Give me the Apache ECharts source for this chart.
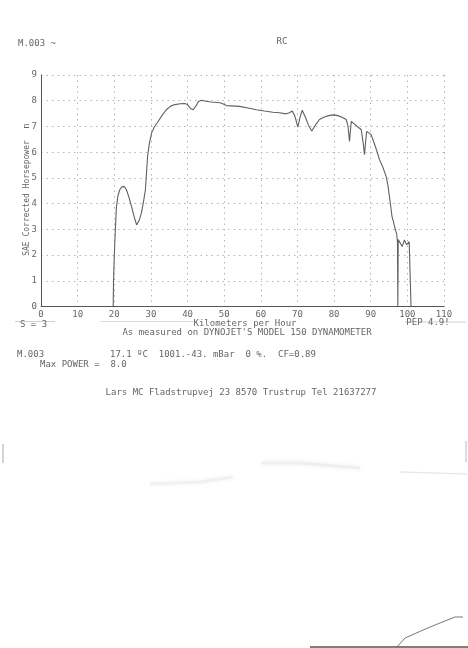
<!DOCTYPE html>
<html>
<head>
<meta charset="utf-8">
<script src="https://cdn.jsdelivr.net/npm/echarts@6/dist/echarts.min.js"></script>
<style>
html,body{margin:0;padding:0;background:#fff;}
#c{width:468px;height:648px;}
</style>
</head>
<body>
<div id="c"></div>
<script>
// Data read from the dyno sheet (km/h, SAE corrected hp)
var speed = [19.7,19.8,20.0,20.3,20.6,21.0,21.5,22.1,22.7,23.3,24.0,24.7,25.4,26.1,26.8,27.4,28.0,28.5,28.8,29.1,29.6,30.2,31.0,32.0,33.0,34.2,35.3,36.5,38.0,39.2,40.0,40.8,41.5,42.3,43.0,43.8,45.0,46.5,48.0,48.8,49.6,50.6,52.0,54.2,56.5,58.8,61.0,63.3,65.1,66.9,67.8,68.6,69.3,70.1,70.7,71.3,72.2,73.0,73.9,74.9,76.0,77.2,78.5,79.8,81.0,82.2,83.3,83.8,84.2,84.5,84.7,85.5,86.5,87.4,87.9,88.3,88.6,88.9,89.5,90.1,91.2,92.4,93.3,94.2,94.7,95.1,95.5,95.8,96.2,96.5,96.9,97.1,97.3,97.4,97.5,98.0,98.6,99.2,99.8,100.5,100.9,101.0];
var power = [0,1.0,1.94,3.0,3.89,4.3,4.54,4.65,4.67,4.55,4.25,3.89,3.5,3.17,3.35,3.63,4.1,4.54,5.2,5.84,6.35,6.75,7.0,7.2,7.42,7.65,7.78,7.85,7.88,7.89,7.85,7.7,7.65,7.8,7.97,8.02,7.98,7.95,7.93,7.92,7.88,7.81,7.8,7.78,7.72,7.65,7.6,7.55,7.53,7.49,7.53,7.6,7.4,6.97,7.35,7.63,7.35,7.05,6.82,7.05,7.27,7.36,7.42,7.45,7.42,7.36,7.27,7.0,6.42,6.9,7.2,7.1,6.98,6.88,6.4,5.9,6.4,6.81,6.75,6.68,6.25,5.71,5.42,5.06,4.7,4.28,3.85,3.5,3.3,3.11,3.1,2.8,2.5,0,2.6,2.55,2.33,2.59,2.4,2.52,2.45,0];
var xTicks = [0,10,20,30,40,50,60,70,80,90,100,110];
var yTicks = [0,1,2,3,4,5,6,7,8,9];

var pts = speed.map(function(s,i){return [s, power[i]];});
var F = '"DejaVu Sans Mono", monospace';
var TC = '#666';

function txt(x,y,s,opts){
  opts = opts||{};
  return {type:'text', x:x, y:y, rotation: opts.rot||0, silent:true, z:10,
    style:{text:s, fill: opts.color||TC, font: (opts.size||9)+'px '+F,
      textAlign: opts.align||'left', textVerticalAlign:'middle'}};
}
function ln(x1,y1,x2,y2,c,w){
  return {type:'line', silent:true, z:1, shape:{x1:x1,y1:y1,x2:x2,y2:y2}, style:{stroke:c||'#ccc', lineWidth:w||1}};
}
function poly(p,c,w,blur){
  return {type:'polyline', silent:true, z:1, shape:{points:p},
    style:{stroke:c, lineWidth:w, fill:null, shadowBlur:blur||0, shadowColor:c}};
}

var chart = echarts.init(document.getElementById('c'), null, {renderer:'canvas'});
chart.setOption({
  backgroundColor:'#fff',
  animation:false,
  grid:{left:41, right:24, top:75, bottom:341.5},
  xAxis:{type:'value', min:0, max:110, interval:10,
    axisLine:{show:true, lineStyle:{color:'#555', width:1}},
    axisTick:{show:false},
    axisLabel:{color:TC, fontSize:9, fontFamily:F, margin:4,
      formatter:function(v){return xTicks.indexOf(v)>=0 ? String(v) : '';}},
    splitLine:{show:true, lineStyle:{color:'#b5b5b5', type:[1.5,4], width:1}}
  },
  yAxis:{type:'value', min:0, max:9, interval:1,
    axisLine:{show:true, lineStyle:{color:'#555', width:1}},
    axisTick:{show:false},
    axisLabel:{color:TC, fontSize:9, fontFamily:F, margin:4,
      formatter:function(v){return yTicks.indexOf(v)>=0 ? String(v) : '';}},
    splitLine:{show:true, lineStyle:{color:'#b5b5b5', type:[1.5,4], width:1}}
  },
  series:[{type:'line', data:pts, showSymbol:false, smooth:false,
    lineStyle:{color:'#606060', width:1.1}, z:5}],
  graphic:[
    txt(18,44,'M.003 ~'),
    txt(282,42,'RC',{align:'center'}),
    txt(27,198,'SAE Corrected Horsepower',{rot:Math.PI/2, align:'center', size:8}),
    txt(27,126,'n',{rot:Math.PI/2, align:'center', size:9}),
    ln(15,321.5,55,321.5,'#cfcfcf'),
    ln(100,321.5,195,321.5,'#dadada'),
    ln(405,322,466,322,'#cfcfcf'),
    txt(20,325,'S = 3'),
    txt(245,324,'Kilometers per Hour',{align:'center'}),
    txt(428,323,'PEP 4.9!',{align:'center'}),
    txt(247,333,'As measured on DYNOJET\'S MODEL 150 DYNAMOMETER',{align:'center'}),
    txt(17,355,'M.003'),
    txt(110,355,'17.1 \u00baC  1001.-43. mBar  0 %.  CF=0.89'),
    txt(40,365,'Max POWER =  8.0'),
    txt(241,393,'Lars MC Fladstrupvej 23 8570 Trustrup Tel 21637277',{align:'center'}),
    // scan artifacts
    poly([[150,484],[200,482],[233,477]],'#f1f1f1',3,4),
    poly([[262,463],[300,463],[360,468]],'#efefef',3,4),
    poly([[400,472],[467,474]],'#e8e8e8',1,1),
    ln(3,444,3,463,'#aaa',1),
    ln(466,441,466,462,'#bbb',1),
    poly([[397,647],[405,638],[430,627],[455,617],[463,617]],'#777',1,0),
    ln(310,647,468,647,'#555',1.5)
  ]
});
</script>
</body>
</html>
